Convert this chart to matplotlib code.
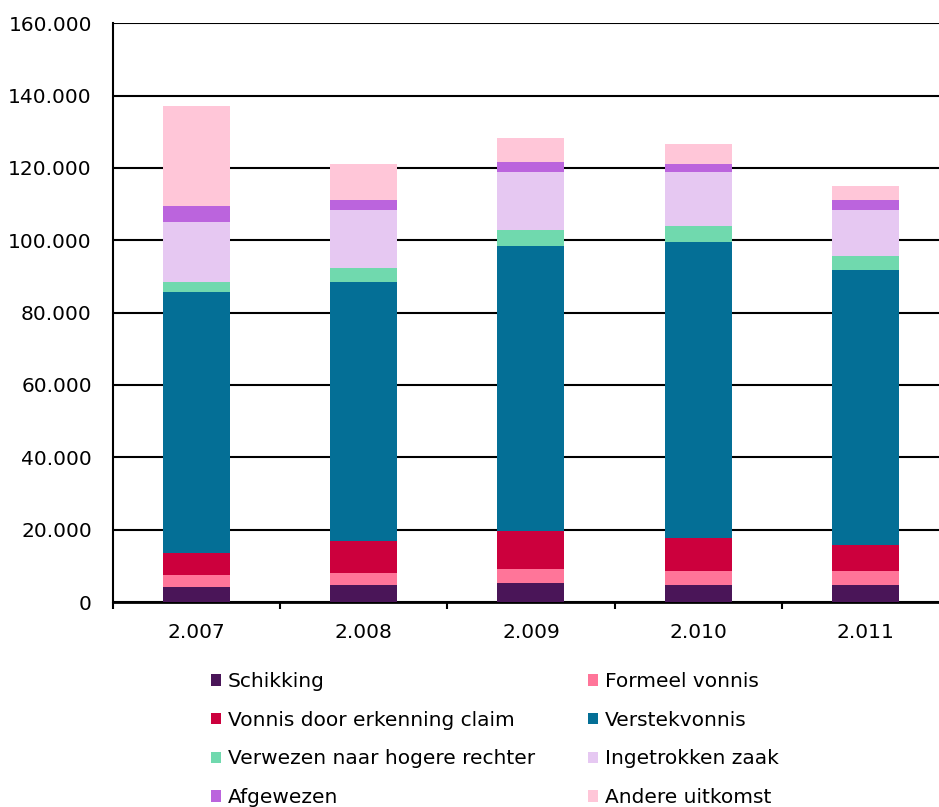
import numpy as np
import matplotlib as mpl
mpl.use('Agg')
import matplotlib.pyplot as plt
from matplotlib.ticker import FuncFormatter

# Data (in thousands)
years = ['2.007', '2.008', '2.009', '2.010', '2.011']
categories = ['Schikking', 'Formeel vonnis', 'Vonnis door erkenning claim', 'Verstekvonnis',
              'Verwezen naar hogere rechter', 'Ingetrokken zaak', 'Afgewezen', 'Andere uitkomst']
schikking = [4.1, 4.6, 5.2, 4.6, 4.6]
formeel = [3.4, 3.4, 3.9, 4.0, 4.0]
erkenning = [6.0, 8.8, 10.5, 9.2, 7.1]
verstek = [72.2, 71.7, 78.8, 81.8, 76.1]
verwezen = [2.8, 3.8, 4.4, 4.4, 3.9]
ingetrokken = [16.6, 16.1, 16.1, 14.9, 12.7]
afgewezen = [4.4, 2.7, 2.7, 2.2, 2.7]
andere = [27.7, 10.0, 6.7, 5.5, 3.9]
colors = ['#4a1558', '#ff7599', '#cc003d', '#046f96', '#70d9ae', '#e6c8f2', '#bb64dd', '#ffc6d8']

series = [schikking, formeel, erkenning, verstek, verwezen, ingetrokken, afgewezen, andere]

fig = plt.figure(figsize=(9.39, 8.07), dpi=100)
ax = fig.add_axes([112.7/939, 1 - 602/807, 836.5/939, 578.7/807])

x = np.arange(len(years))
bottom = np.zeros(len(years))
for vals, col, lab in zip(series, colors, categories):
    v = np.array(vals) * 1000
    ax.bar(x, v, width=0.40, bottom=bottom, color=col, label=lab, zorder=3)
    bottom += v

ax.set_xlim(-0.5, 4.5)
ax.set_ylim(0, 160000)
ax.set_yticks(np.arange(0, 160001, 20000))
ax.yaxis.set_major_formatter(FuncFormatter(lambda v, p: '0' if v == 0 else f'{int(v):,}'.replace(',', '.')))
ax.yaxis.grid(True, color='black', linewidth=1.5, zorder=0)
ax.set_axisbelow(True)
ax.tick_params(axis='y', length=0, pad=15, labelsize=14.5, colors='black')
ax.set_xticks(x)
ax.set_xticklabels(years)
ax.set_xticks(np.arange(-0.5, 5, 1), minor=True)
ax.tick_params(axis='x', which='major', length=0, pad=15, labelsize=14.5)
ax.tick_params(axis='x', which='minor', length=5, width=1.5, direction='out')
for s in ['top', 'right']:
    ax.spines[s].set_visible(False)
ax.spines['left'].set_linewidth(1.5)
ax.spines['bottom'].set_linewidth(2)

# legend filled row by row (matplotlib fills columns first)
handles, labels = ax.get_legend_handles_labels()
order = [0, 2, 4, 6, 1, 3, 5, 7]
fig.legend([handles[i] for i in order], [labels[i] for i in order],
           loc='upper left', bbox_to_anchor=(211/939, 1 - 672/807), ncol=2, frameon=False,
           fontsize=14.5, handlelength=0.5, handleheight=0.5, handletextpad=0.35,
           labelspacing=0.98, columnspacing=2.6, borderaxespad=0, borderpad=0)

fig.savefig('out.png', dpi=100)
